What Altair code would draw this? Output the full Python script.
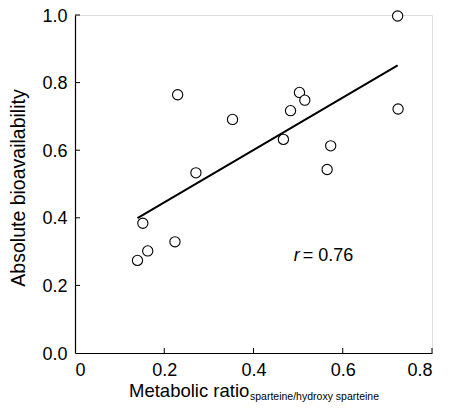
import altair as alt
import pandas as pd

# Data
ratio = [0.140, 0.152, 0.163, 0.224, 0.230, 0.271, 0.353, 0.467, 0.483, 0.503, 0.515, 0.565, 0.573, 0.723, 0.724]
bioav = [0.274, 0.384, 0.302, 0.329, 0.764, 0.533, 0.691, 0.632, 0.717, 0.771, 0.748, 0.543, 0.613, 0.997, 0.722]
fit_x = [0.140, 0.723]
fit_y = [0.399, 0.851]
x_ticks = [0.2, 0.4, 0.6, 0.8]
y_ticks = [0.2, 0.4, 0.6, 0.8, 1.0]
x_axis_values = [0, 0.2, 0.4, 0.6, 0.8]
y_axis_values = [0, 0.2, 0.4, 0.6, 0.8, 1.0]

FONT = "Liberation Sans"
W, H = 357, 338

pts = pd.DataFrame({"ratio": ratio, "bioav": bioav})
fit = pd.DataFrame({"ratio": fit_x, "bioav": fit_y})
xt = pd.DataFrame({"t": x_ticks})
yt = pd.DataFrame({"t": y_ticks})
ann = pd.DataFrame({"ratio": [0.49], "bioav": [0.271]})

xscale = alt.Scale(domain=[0, 0.8], nice=False, zero=False)
yscale = alt.Scale(domain=[0, 1], nice=False, zero=False)

xaxis = alt.Axis(values=x_axis_values, title=None, grid=False, ticks=False,
                 labelExpr="datum.value == 0 ? '0' : format(datum.value, '.1f')",
                 labelFont=FONT, labelFontSize=18, labelColor="black", labelPadding=8,
                 domainColor="black", domainWidth=1.2)
yaxis = alt.Axis(values=y_axis_values, title=None, grid=False, ticks=False,
                 format=".1f", labelFont=FONT, labelFontSize=18, labelColor="black", labelPadding=8,
                 labelOffset=1, domainColor="black", domainWidth=1.2)

points = alt.Chart(pts).mark_point(shape="circle", size=105, filled=True, fill="white",
                                   stroke="black", strokeWidth=1.1, opacity=1).encode(
    x=alt.X("ratio:Q", scale=xscale, axis=xaxis),
    y=alt.Y("bioav:Q", scale=yscale, axis=yaxis),
)

line = alt.Chart(fit).mark_line(color="black", strokeWidth=2).encode(
    x=alt.X("ratio:Q", scale=xscale),
    y=alt.Y("bioav:Q", scale=yscale),
)

xtick = alt.Chart(xt).mark_rule(color="black", strokeWidth=1).encode(
    x=alt.X("t:Q", scale=xscale), y=alt.value(H), y2=alt.value(H - 5)
)
ytick = alt.Chart(yt).mark_rule(color="black", strokeWidth=1).encode(
    y=alt.Y("t:Q", scale=yscale), x=alt.value(0), x2=alt.value(5)
)

r_txt = alt.Chart(ann).mark_text(text="r", font=FONT, fontSize=18, fontStyle="italic",
                                 align="left", baseline="alphabetic", color="black").encode(
    x=alt.X("ratio:Q", scale=xscale), y=alt.Y("bioav:Q", scale=yscale))
val_txt = alt.Chart(ann).mark_text(text="= 0.76", font=FONT, fontSize=18, dx=9,
                                   align="left", baseline="alphabetic", color="black").encode(
    x=alt.X("ratio:Q", scale=xscale), y=alt.Y("bioav:Q", scale=yscale))

title_main = alt.Chart(ann).mark_text(text="Metabolic ratio", font=FONT, fontSize=18.5,
                                      align="left", baseline="alphabetic", color="black").encode(
    x=alt.value(54), y=alt.value(H + 44))
title_sub = alt.Chart(ann).mark_text(text="sparteine/hydroxy sparteine", font=FONT, fontSize=10.5,
                                     align="left", baseline="alphabetic", color="black").encode(
    x=alt.value(175), y=alt.value(H + 47))
title_y = alt.Chart(ann).mark_text(text="Absolute bioavailability", font=FONT, fontSize=19.5,
                                   angle=270, align="center", baseline="top", color="black").encode(
    x=alt.value(-65), y=alt.value(173))

chart = alt.layer(line, points, xtick, ytick, r_txt, val_txt, title_main, title_sub, title_y).properties(
    width=W, height=H,
    autosize=alt.AutoSizeParams(type="none"),
    padding={"left": 67, "top": 7, "right": 10, "bottom": 49},
).configure_view(stroke=None).configure(background="white")

chart.save("out.html", embed_options={"renderer": "svg", "actions": False})
